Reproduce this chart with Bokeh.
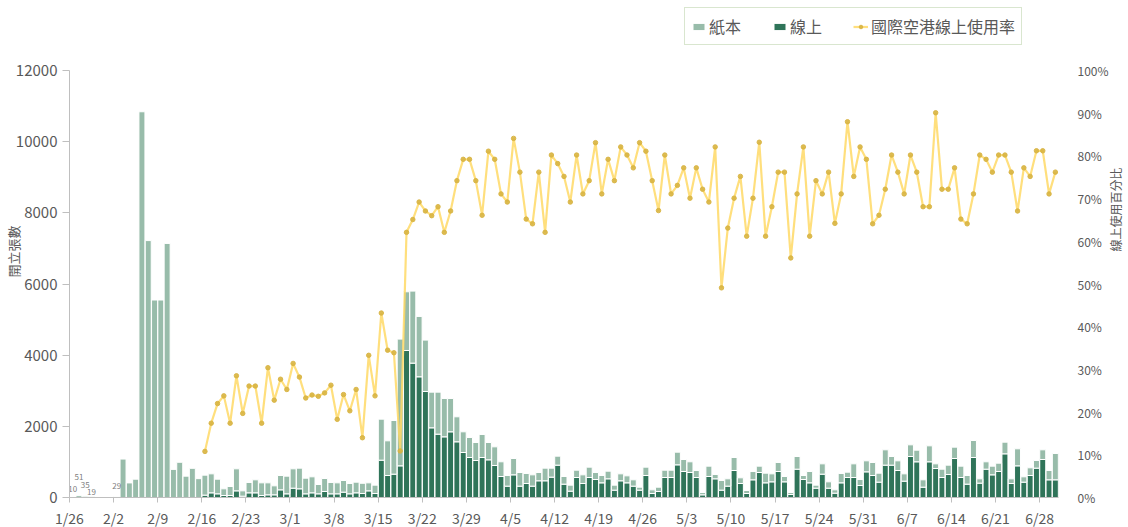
import math
from bokeh.plotting import figure
from bokeh.models import (Range1d, LinearAxis, FixedTicker, PrintfTickFormatter,
                          Legend, LegendItem, ColumnDataSource)
from bokeh.embed import file_html
from bokeh.resources import INLINE
from bokeh.core.properties import value

# ---------------- data (daily, starting 2020-01-26) ----------------
start_date = "2020-01-26"

paper = [10, 51, 35, 19, 0, 0, 0, 29, 1080, 410,
         515, 10840, 7220, 5550, 5550, 7140, 790, 990, 600, 820,
         530, 562, 534, 412, 188, 253, 619, 150, 291, 366,
         356, 337, 253, 403, 497, 544, 581, 440, 450, 262,
         365, 319, 309, 328, 291, 300, 288, 225, 235, 1153,
         975, 1508, 3561, 1649, 2024, 1696, 1443, 1003, 1181, 1078,
         937, 703, 581, 563, 506, 647, 487, 524, 413, 299,
         459, 384, 281, 318, 234, 356, 253, 253, 215, 169,
         206, 243, 291, 197, 206, 215, 141, 196, 197, 178,
         84, 235, 103, 121, 206, 206, 356, 337, 300, 197,
         65, 291, 122, 272, 206, 365, 159, 85, 234, 178,
         272, 225, 253, 150, 56, 356, 112, 319, 85, 290,
         178, 93, 263, 150, 384, 169, 310, 366, 253, 431,
         243, 272, 206, 328, 327, 207, 449, 131, 234, 262,
         319, 319, 243, 478, 122, 207, 244, 234, 328, 131,
         478, 150, 216, 215, 272, 262, 740]

online = [0, 0, 0, 0, 0, 0, 0, 0, 0, 0,
          0, 0, 0, 0, 0, 0, 0, 0, 0, 0,
          0, 66, 131, 103, 56, 56, 187, 37, 131, 131,
          56, 75, 75, 215, 103, 262, 244, 103, 131, 103,
          169, 103, 103, 150, 103, 131, 112, 187, 112, 1049,
          618, 656, 890, 4132, 3776, 3392, 2980, 1958, 1780, 1705,
          1846, 1565, 1265, 1124, 1040, 1124, 1059, 900, 590, 319,
          637, 319, 394, 319, 469, 469, 572, 909, 375, 178,
          562, 394, 562, 506, 412, 525, 206, 469, 412, 319,
          206, 618, 112, 169, 562, 562, 918, 731, 703, 562,
          75, 590, 525, 206, 319, 759, 394, 112, 497, 703,
          412, 440, 731, 440, 84, 796, 506, 412, 262, 656,
          262, 122, 412, 562, 562, 337, 721, 618, 431, 909,
          909, 759, 459, 1152, 1003, 290, 1003, 815, 562, 647,
          1096, 562, 375, 1124, 403, 796, 637, 731, 1227, 394,
          890, 431, 618, 825, 1068, 497, 497]

# online usage rate at the international airport (%), from 2/16 (day 21)
rate_start = 21
rate = [10.8, 17.4, 22.0, 23.8, 17.4, 28.5, 19.7, 26.1, 26.1, 17.4,
        30.4, 22.8, 27.7, 25.3, 31.4, 28.2, 23.3, 24.0, 23.7, 24.5,
        26.3, 18.3, 24.1, 20.3, 25.3, 14.0, 33.3, 23.8, 43.2, 34.5,
        33.9, 10.9, 62.1, 65.1, 69.2, 67.1, 66.0, 68.1, 62.1, 67.1,
        74.2, 79.2, 79.2, 74.2, 66.1, 81.1, 79.2, 71.1, 69.2, 84.1,
        76.2, 65.2, 64.1, 76.2, 62.1, 80.2, 78.2, 75.2, 69.2, 80.2,
        71.1, 74.2, 83.1, 71.1, 79.2, 74.2, 82.1, 80.2, 77.2, 83.1,
        81.1, 74.2, 67.2, 80.2, 71.1, 73.1, 77.2, 70.1, 77.2, 72.2,
        69.2, 82.1, 49.1, 63.1, 70.1, 75.2, 61.2, 70.1, 83.2, 61.2,
        68.1, 76.2, 76.2, 56.1, 71.1, 82.1, 61.2, 74.2, 71.1, 76.2,
        64.2, 71.1, 88.0, 75.2, 82.1, 79.2, 64.1, 66.1, 72.2, 80.2,
        76.2, 71.1, 80.2, 76.2, 68.1, 68.1, 90.1, 72.2, 72.2, 77.2,
        65.2, 64.1, 71.1, 80.2, 79.2, 76.2, 80.2, 80.2, 76.2, 67.1,
        77.2, 75.2, 81.2, 81.2, 71.1, 76.2]

tick_labels = ["1/26", "2/2", "2/9", "2/16", "2/23", "3/1", "3/8", "3/15",
               "3/22", "3/29", "4/5", "4/12", "4/19", "4/26", "5/3", "5/10",
               "5/17", "5/24", "5/31", "6/7", "6/14", "6/21", "6/28"]
tick_step_days = 7
count_ticks = [0, 2000, 4000, 6000, 8000, 10000, 12000]
count_max = 12000
rate_ticks = [0, 10, 20, 30, 40, 50, 60, 70, 80, 90, 100]
rate_max = 100

labelled_days = [0, 1, 2, 3, 7]          # days with small data labels
label_offsets = [-8, -19, -11, -5, -10]   # pixel offsets of those labels

# ---------------- styling / layout ----------------
FONT = "Noto Sans CJK TC"
C_PAPER = "#98BCAA"
C_ONLINE = "#2F7459"
C_LINE = "#FFD966"
C_MARK = "#D8B441"
C_TEXT = "#595959"
C_AXIS = "#BFBFBF"

AXIS_H = 427        # pixel height of the 0..12000 axis
FRAME_H = 492       # frame extends above the axes to hold the legend
scale_top = FRAME_H / AXIS_H

n = len(paper)
xs = [i + 0.5 for i in range(n)]
src = ColumnDataSource(dict(x=xs, online=online, paper=paper))
rsrc = ColumnDataSource(dict(x=xs[rate_start:rate_start + len(rate)], rate=rate))

p = figure(frame_width=989, frame_height=FRAME_H, output_backend="svg",
           toolbar_location=None,
           x_range=Range1d(0, n), y_range=Range1d(0, count_max * scale_top),
           min_border_left=67, min_border_right=50, min_border_top=5,
           min_border_bottom=22)
p.extra_y_ranges = {"rate": Range1d(0, rate_max * scale_top)}
p.outline_line_color = None
p.xgrid.visible = False
p.ygrid.visible = False
p.background_fill_color = "white"
p.border_fill_color = "white"

bars = p.vbar_stack(["online", "paper"], x="x", width=0.95, source=src,
                    color=[C_ONLINE, C_PAPER], line_color="white", line_width=1)

ln = p.line("x", "rate", source=rsrc, y_range_name="rate", line_color=C_LINE,
            line_width=2.2, line_alpha=0.85)
mk = p.scatter("x", "rate", source=rsrc, y_range_name="rate", size=4.5,
               fill_color=C_MARK, line_color=C_MARK, fill_alpha=0.9, line_alpha=0.9)

# small data labels on the first days
lsrc = ColumnDataSource(dict(x=[xs[d] for d in labelled_days],
                             y=[paper[d] for d in labelled_days],
                             t=[str(paper[d]) for d in labelled_days],
                             off=label_offsets))
p.text("x", "y", text="t", source=lsrc, y_offset="off", text_font=value(FONT),
       text_font_size="8px", text_color="#808080", text_align="center",
       text_baseline="middle")

# x axis
xa = p.xaxis[0]
ticks = [i * tick_step_days for i in range(len(tick_labels))]
xa.ticker = FixedTicker(ticks=ticks)
xa.major_label_overrides = {t: l for t, l in zip(ticks, tick_labels)}
xa.minor_tick_line_color = None
xa.axis_line_color = C_AXIS
xa.major_tick_line_color = C_AXIS
xa.major_tick_in = 0
xa.major_tick_out = 5
xa.major_label_standoff = 5
xa.major_label_text_font = FONT
xa.major_label_text_font_size = "14px"
xa.major_label_text_color = C_TEXT

# left axis
ya = p.yaxis[0]
ya.ticker = FixedTicker(ticks=count_ticks)
ya.bounds = (0, count_max)
ya.minor_tick_line_color = None
ya.axis_line_color = C_AXIS
ya.major_tick_line_color = C_AXIS
ya.major_tick_in = 0
ya.major_tick_out = 7
ya.major_label_standoff = 5
ya.major_label_text_font = FONT
ya.major_label_text_font_size = "15px"
ya.major_label_text_color = C_TEXT
ya.axis_label = "開立張數"
ya.axis_label_text_font = FONT
ya.axis_label_text_font_size = "13px"
ya.axis_label_text_font_style = "normal"
ya.axis_label_text_color = C_TEXT
ya.axis_label_standoff = -10

# right axis
ra = LinearAxis(y_range_name="rate", ticker=FixedTicker(ticks=rate_ticks),
                formatter=PrintfTickFormatter(format="%d%%"), bounds=(0, rate_max))
ra.axis_line_color = None
ra.major_tick_line_color = None
ra.minor_tick_line_color = None
ra.major_label_standoff = 13
ra.major_label_text_font = FONT
ra.major_label_text_font_size = "12px"
ra.major_label_text_color = C_TEXT
ra.axis_label = "線上使用百分比"
ra.axis_label_text_font = FONT
ra.axis_label_text_font_size = "12px"
ra.axis_label_text_font_style = "normal"
ra.axis_label_text_color = C_TEXT
ra.axis_label_standoff = 4
try:
    ra.axis_label_orientation = math.pi / 2
except Exception:
    pass
p.add_layout(ra, "right")

legend = Legend(items=[LegendItem(label="紙本", renderers=[bars[1]]),
                       LegendItem(label="線上", renderers=[bars[0]]),
                       LegendItem(label="國際空港線上使用率", renderers=[ln, mk])],
                orientation="horizontal", location=(615, 452), margin=0,
                label_text_font=FONT, label_text_font_size="16px",
                label_text_color=C_TEXT, glyph_width=15, glyph_height=9,
                label_standoff=3, spacing=31, padding=6,
                border_line_color="#B4CDA0", border_line_width=1,
                background_fill_color="white", background_fill_alpha=1)
p.add_layout(legend, "center")

open("out.html", "w").write(file_html(p, INLINE))
